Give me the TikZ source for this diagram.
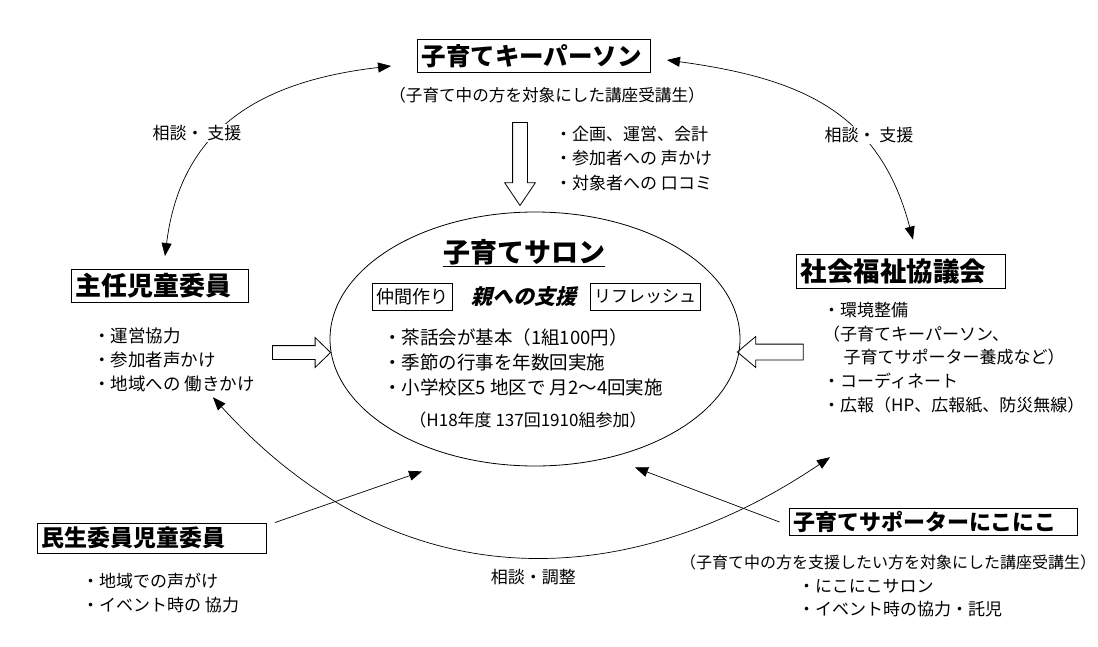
\documentclass[tikz,border=0pt]{standalone}
\usepackage{fontspec}
\setmainfont{Noto Sans CJK JP}
\newfontfamily\slantjp{Noto Sans CJK JP}[UprightFeatures={FakeSlant=0.25}, BoldFeatures={FakeSlant=0.25}]
\usetikzlibrary{arrows.meta,shapes.geometric,shapes.arrows}
\newcommand{\setfs}[2]{\fontsize{#1}{#2}\selectfont}

\begin{document}
\begin{tikzpicture}[x=1pt, y=-1pt,
      every node/.style={align=left},
      title/.style={draw, line width=0.9pt, inner xsep=4pt, inner ysep=0pt},
      tag/.style={draw, line width=0.8pt, inner xsep=4pt, inner ysep=0pt, minimum height=27pt},
      txt/.style={inner sep=0pt},
      lbl/.style={inner sep=1pt, fill=white, font=\setfs{17}{20}},
      arrow/.style={-{Triangle[length=13pt,width=10pt]}, line width=0.7pt},
      twoway/.style={{Triangle[length=13pt,width=10pt]}-{Triangle[length=13pt,width=10pt]}, line width=0.7pt},
      hollow/.style={single arrow, draw, line width=0.8pt, inner xsep=0pt}
    ]
      \useasboundingbox (0,0) rectangle (1098,646);

      % Key persons at the top
      \node[title, font=\bfseries\setfs{24.5}{30}, text width=225pt, minimum height=33pt] (kp) at (534,56) {子育てキーパーソン};
      \node[txt, font=\setfs{16.6}{20}] (kpnote) at (547,95) {（子育て中の方を対象にした講座受講生）};
      \node[hollow, rotate=-90, inner ysep=7pt, single arrow head extend=8pt, single arrow tip angle=68, minimum height=83pt] (arrD) at (520,158.5) {};
      \node[txt, anchor=west, font=\setfs{17}{24.5}] (kplist) at (555,158.5) {・企画、運営、会計\\・参加者への 声かけ\\・対象者への 口コミ};

      % Salon in the middle
      \node[draw, ellipse, line width=0.8pt, minimum width=410pt, minimum height=254pt, inner sep=0pt] (salon) at (535,339) {};
      \node[txt, font=\bfseries\setfs{27}{30}] (salontitle) at (524,253) {\underline{子育てサロン}};
      \node[tag, font=\setfs{18}{20}] (nakama) at (412,297) {仲間作り};
      \node[txt, font=\slantjp\bfseries\setfs{21}{24}] (oya) at (524,297) {親への支援};
      \node[tag, font=\setfs{17}{20}] (refresh) at (645,297) {リフレッシュ};
      \node[txt, anchor=west, font=\setfs{18.5}{25}] (salonlist) at (383,362) {・茶話会が基本（1組100円）\\・季節の行事を年数回実施\\・小学校区5 地区で 月2〜4回実施};
      \node[txt, font=\setfs{17}{20}] (salonnote) at (528,420) {（H18年度 137回1910組参加）};

      % Left side
      \node[title, font=\bfseries\setfs{26}{30}, text width=169pt, minimum height=33pt] (shunin) at (160,286) {主任児童委員};
      \node[hollow, inner ysep=6.5pt, single arrow head extend=8pt, single arrow tip angle=88, minimum height=58pt] (arrR) at (298,352.5) {};
      \node[txt, anchor=west, font=\setfs{17.5}{24}] (shuninlist) at (93,360) {・運営協力\\・参加者声かけ\\・地域への 働きかけ};

      % Right side
      \node[title, font=\bfseries\setfs{26.5}{30}, text width=201pt, minimum height=34pt] (shakai) at (901,271) {社会福祉協議会};
      \node[hollow, rotate=180, inner ysep=7.5pt, single arrow head extend=7.5pt, single arrow tip angle=80, minimum height=66pt] (arrL) at (775,352) {};
      \node[txt, anchor=west, font=\setfs{17}{23.75}] (shakailist) at (823,357.5) {・環境整備\\（子育てキーパーソン、\\\hspace*{1.2em}子育てサポーター養成など）\\・コーディネート\\・広報（HP、広報紙、防災無線）};

      % Bottom left
      \node[title, font=\bfseries\setfs{23}{26}, text width=221pt, minimum height=30pt] (minsei) at (152,538) {民生委員児童委員};
      \node[txt, anchor=west, font=\setfs{17}{24}] (minseilist) at (82,593) {・地域での声がけ\\・イベント時の 協力};

      % Bottom right
      \node[title, font=\bfseries\setfs{22}{24}, text width=280pt, minimum height=27pt] (niko) at (933,522) {子育てサポーターにこにこ};
      \node[txt, font=\setfs{16}{20}] (nikonote) at (888,562) {（子育て中の方を支援したい方を対象にした講座受講生）};
      \node[txt, anchor=west, font=\setfs{17}{23}] (nikolist) at (798,598.5) {・にこにこサロン\\・イベント時の協力・託児};

      % Curved arrows
      \draw[twoway] ([shift={(5,-13)}]shunin.north) .. controls (181,127) and (262,81) .. ([shift={(-26,10)}]kp.west);
      \draw[twoway] ([shift={(16,4)}]kp.east) .. controls (798,78) and (879,110) .. ([shift={(12,-14)}]shakai.north);
      \draw[twoway] ([shift={(39,5)}]shuninlist.south) .. controls (406,610) and (637,588) .. ([shift={(7,44)}]shakailist.south west)
        node[midway, below=13pt, xshift=12pt, txt, font=\setfs{17}{20}] (adjust) {相談・調整};
      \node[lbl] (consultL) at (197,133) {相談・ 支援};
      \node[lbl] (consultR) at (869,135) {相談・ 支援};

      % Straight arrows
      \draw[arrow] ([xshift=8pt]minsei.north east) -- ([shift={(-113,5)}]salon.south);
      \draw[arrow] ([xshift=-9pt]niko.west) -- ([shift={(100,1)}]salon.south);
    \end{tikzpicture}
\end{document}
